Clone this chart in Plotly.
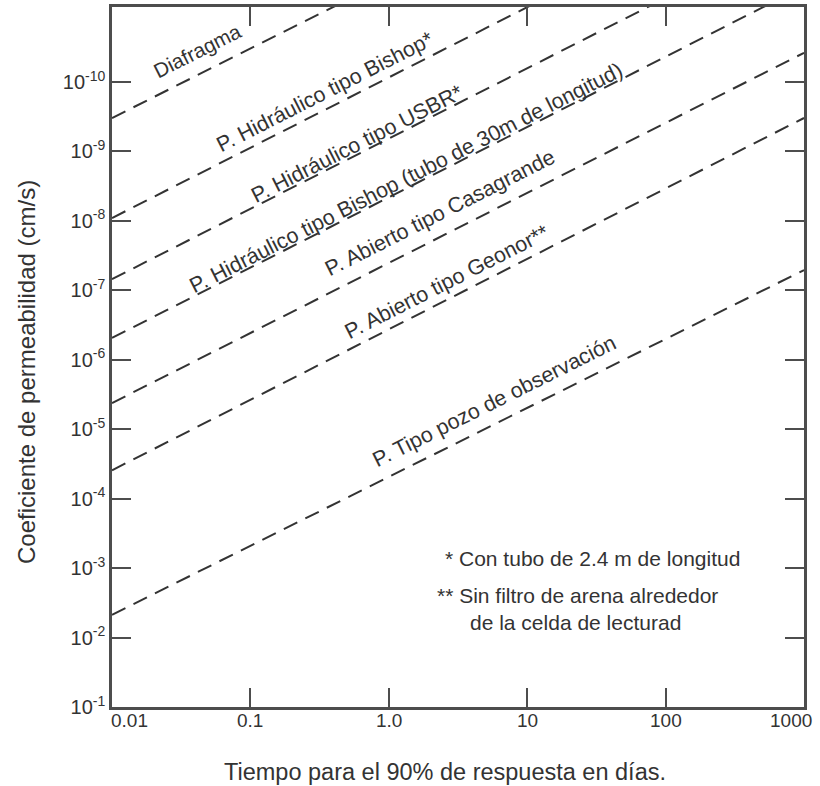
import math
import plotly.graph_objects as go

# ---------------- data ----------------
line_names = [
    "Diafragma",
    "P. Hidráulico tipo Bishop*",
    "P. Hidráulico tipo USBR*",
    "P. Hidráulico tipo Bishop (tubo de 30m de longitud)",
    "P. Abierto tipo Casagrande",
    "P. Abierto tipo Geonor**",
    "P. Tipo pozo de observación",
]
time_days = [0.01, 1000]                      # t at the two ends of each line
k_at_start = [3.3e-10, 9.1e-9, 6.9e-8, 4.85e-7, 4.2e-6, 3.9e-5, 4.7e-3]   # k at t=0.01
k_at_end = [3.3e-15, 7.9e-14, 6.0e-13, 4.2e-12, 3.8e-11, 3.3e-10, 5.1e-8]  # k at t=1000

x_tick_vals = [0.01, 0.1, 1, 10, 100, 1000]
x_tick_text = ["0.01", "0.1", "1.0", "10", "100", "1000"]
y_tick_vals = [1e-1, 1e-2, 1e-3, 1e-4, 1e-5, 1e-6, 1e-7, 1e-8, 1e-9, 1e-10]
y_tick_text = ["10<sup>-%d</sup>" % i for i in range(1, 11)]

footnotes = [
    "* Con tubo de 2.4 m de longitud",
    "** Sin filtro de arena alrededor",
    "de la celda de lecturad",
]
x_title = "Tiempo para el 90% de respuesta en días."
y_title = "Coeficiente de permeabilidad (cm/s)"

# ---------------- layout / style settings ----------------
W, H = 820, 786
ML, MR, MT, MB = 112, 16, 7, 79
X_RANGE = [-2, 3]
Y_RANGE = [-1, -11.08]
FONT = "Liberation Sans, Arial, Helvetica, sans-serif"
INK = "#333333"
AXIS = "#4d4d4d"

label_t = [0.0418, 0.346, 0.589, 1.34, 2.34, 2.63, 5.85]   # where each label sits along its line
label_shift = [24, 18, 11, 10, 24, 18, 23]                  # px above the line
label_size = [20.5, 21.5, 21.5, 21.5, 21.5, 21.5, 21.5]

plot_w = W - ML - MR
plot_h = H - MT - MB
px_per_dec_x = plot_w / (X_RANGE[1] - X_RANGE[0])
px_per_dec_y = plot_h / abs(Y_RANGE[1] - Y_RANGE[0])

fig = go.Figure()

for name, k0, k1 in zip(line_names, k_at_start, k_at_end):
    fig.add_trace(go.Scatter(
        x=time_days, y=[k0, k1], mode="lines", name=name,
        line=dict(color=INK, width=2, dash="15px,9px"),
        hoverinfo="name", showlegend=False,
    ))

annotations = []
lt0, lt1 = math.log10(time_days[0]), math.log10(time_days[1])
for name, k0, k1, tl, sh, fs in zip(line_names, k_at_start, k_at_end,
                                    label_t, label_shift, label_size):
    lk0, lk1 = math.log10(k0), math.log10(k1)
    lt = math.log10(tl)
    lk = lk0 + (lk1 - lk0) * (lt - lt0) / (lt1 - lt0)
    dy = (lk0 - lk1) * px_per_dec_y
    dx = (lt1 - lt0) * px_per_dec_x
    ang = -math.degrees(math.atan2(dy, dx))
    annotations.append(dict(
        x=lt, y=lk, xref="x", yref="y", text=name, showarrow=False,
        textangle=ang, xanchor="center", yanchor="middle", yshift=sh,
        font=dict(family=FONT, size=fs, color=INK),
    ))

# x tick labels
for i, (v, t) in enumerate(zip(x_tick_vals, x_tick_text)):
    anchor, xs = "center", 0
    if i == 0:
        anchor, xs = "left", -3
    elif i == len(x_tick_vals) - 1:
        anchor, xs = "right", 10
    annotations.append(dict(
        x=math.log10(v), y=0, xref="x", yref="paper", text=t, showarrow=False,
        xanchor=anchor, yanchor="middle", xshift=xs, yshift=-13,
        font=dict(family=FONT, size=19, color=INK),
    ))

# axis titles
annotations.append(dict(
    x=(445 - ML) / plot_w, y=0, xref="paper", yref="paper", text=x_title,
    showarrow=False, xanchor="center", yanchor="middle", yshift=-65,
    font=dict(family=FONT, size=23.5, color=INK),
))
annotations.append(dict(
    x=(27 - ML) / plot_w, y=(H - MB - 372) / plot_h, xref="paper", yref="paper",
    text=y_title, showarrow=False, textangle=-90, xanchor="center", yanchor="middle",
    font=dict(family=FONT, size=24, color=INK),
))

# footnotes
foot_pos = [(443, 558), (435, 595), (468, 622)]
for txt, (px, py) in zip(footnotes, foot_pos):
    annotations.append(dict(
        x=(px - ML) / plot_w, y=(H - MB - py) / plot_h, xref="paper", yref="paper",
        text=txt, showarrow=False, xanchor="left", yanchor="middle",
        font=dict(family=FONT, size=21, color=INK),
    ))

fig.update_layout(
    width=W, height=H,
    margin=dict(l=ML, r=MR, t=MT, b=MB, pad=0, autoexpand=False),
    paper_bgcolor="white", plot_bgcolor="white",
    annotations=annotations,
    xaxis=dict(
        type="log", range=X_RANGE, showgrid=False, zeroline=False, automargin=False,
        tickvals=x_tick_vals, showticklabels=False,
        ticks="inside", ticklen=19, tickwidth=2, tickcolor=AXIS,
        showline=True, linecolor=AXIS, linewidth=2.5, mirror="ticks",
    ),
    yaxis=dict(
        type="log", range=Y_RANGE, showgrid=False, zeroline=False, automargin=False,
        tickvals=y_tick_vals, ticktext=y_tick_text,
        ticks="inside", ticklen=19, tickwidth=2, tickcolor=AXIS,
        tickfont=dict(family=FONT, size=20, color=INK),
        showline=True, linecolor=AXIS, linewidth=2.5, mirror="ticks",
    ),
)

fig.write_html(
    "out.html",
    config={"displayModeBar": False},
    post_script="document.body.style.margin='0px';document.body.style.overflow='hidden';",
)
